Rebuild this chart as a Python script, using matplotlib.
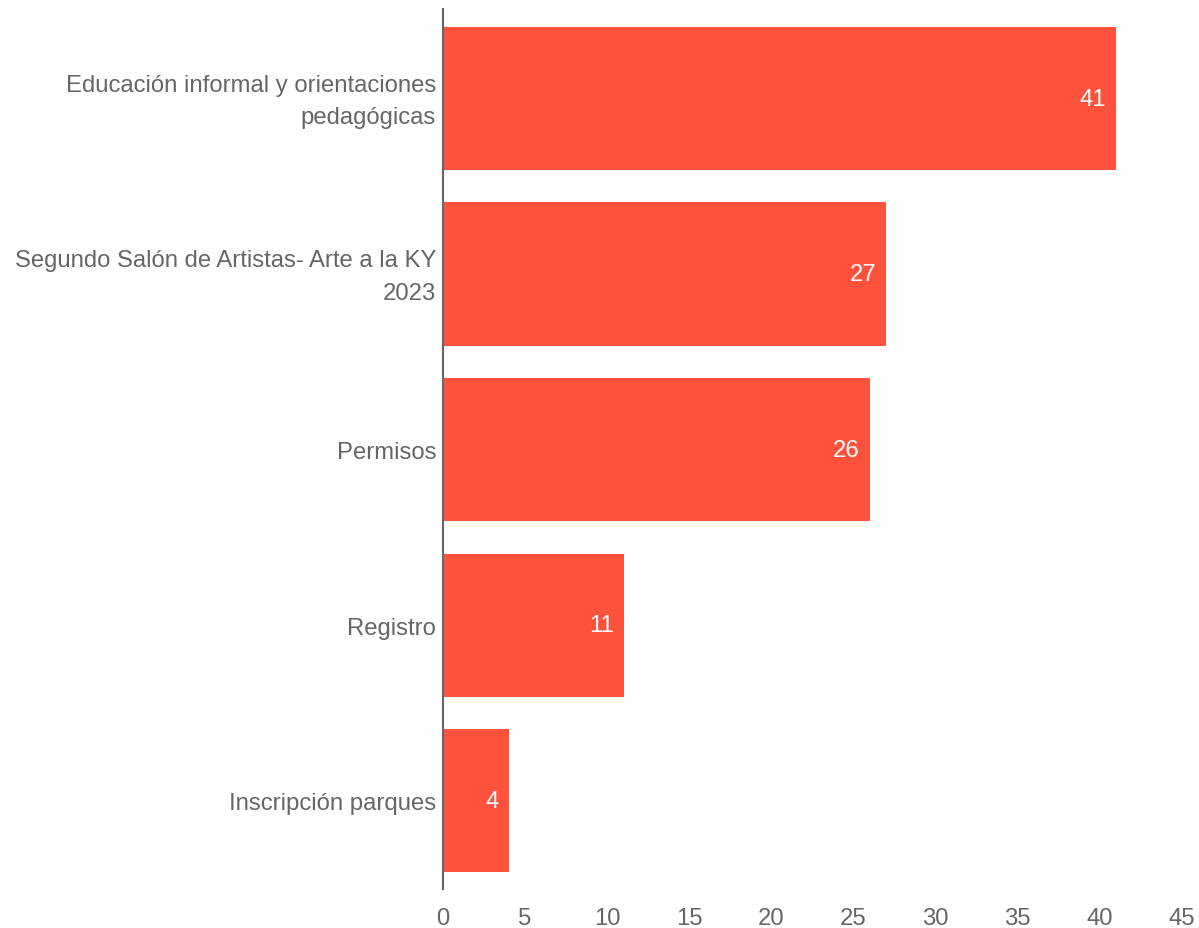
import matplotlib
matplotlib.use("Agg")
import matplotlib.pyplot as plt
from matplotlib.transforms import ScaledTranslation

categories = ["Educación informal y orientaciones\npedagógicas",
              "Segundo Salón de Artistas- Arte a la KY\n2023",
              "Permisos", "Registro", "Inscripción parques"]
values = [41, 27, 26, 11, 4]
xticks = [0, 5, 10, 15, 20, 25, 30, 35, 40, 45]

plt.rcParams['font.family'] = ['Liberation Sans', 'DejaVu Sans']
W, H = 1199, 929
fig = plt.figure(figsize=(W/100, H/100), dpi=100)
ax = fig.add_axes([443/W, 1-890/H, (1182-443)/W, (890-10)/H])

color = '#FF523D'
ypos = list(range(len(categories)))
ax.barh(ypos, values, height=0.815, color=color, zorder=2)
ax.set_ylim(4.504, -0.51)
ax.set_xlim(0, 45)
ax.set_yticks(ypos)
ax.set_yticklabels(categories, fontsize=17.2, color='#666666', linespacing=1.62)
ax.set_xticks(xticks)
ax.set_xticklabels([str(t) for t in xticks], fontsize=17.2, color='#666666')
ax.tick_params(axis='both', length=0)
ax.tick_params(axis='y', pad=5)
ax.tick_params(axis='x', pad=13)
for lab in ax.get_yticklabels():
    if '\n' in lab.get_text():
        lab.set_transform(lab.get_transform() + ScaledTranslation(0, 5.5/100, fig.dpi_scale_trans))
for s in ['top', 'right', 'bottom']:
    ax.spines[s].set_visible(False)
ax.spines['left'].set_color('#666666')
ax.spines['left'].set_linewidth(1.5)
ax.spines['left'].set_zorder(3)

for y, v in zip(ypos, values):
    ax.annotate(str(v), xy=(v, y), xytext=(-10, 0), textcoords='offset pixels',
                ha='right', va='center', color='white', fontsize=17.2)

fig.savefig('out.png', dpi=100)
